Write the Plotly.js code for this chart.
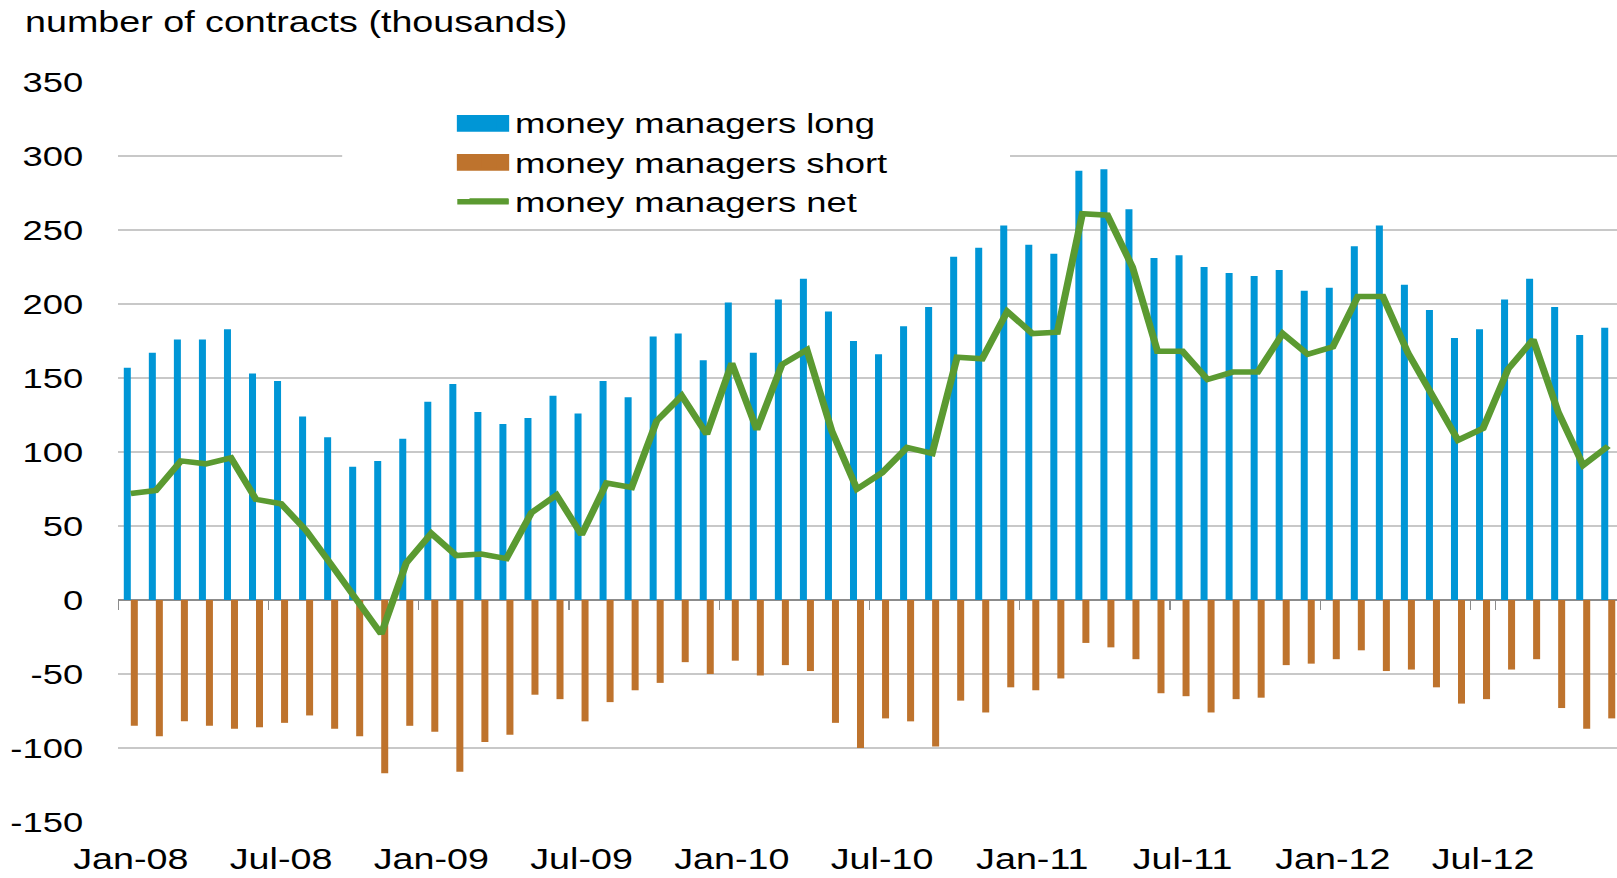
<!DOCTYPE html>
<html>
<head>
<meta charset="utf-8">
<script src="https://cdn.plot.ly/plotly-3.0.1.min.js"></script>
<style>
  html, body { margin: 0; padding: 0; background: #ffffff; overflow: hidden; }
  #chart { height: 878px; transform-origin: 0 0; }
</style>
</head>
<body>
<div id="chart"></div>
<script>
const months = [
  'Jan-08','Feb-08','Mar-08','Apr-08','May-08','Jun-08','Jul-08','Aug-08','Sep-08','Oct-08','Nov-08','Dec-08',
  'Jan-09','Feb-09','Mar-09','Apr-09','May-09','Jun-09','Jul-09','Aug-09','Sep-09','Oct-09','Nov-09','Dec-09',
  'Jan-10','Feb-10','Mar-10','Apr-10','May-10','Jun-10','Jul-10','Aug-10','Sep-10','Oct-10','Nov-10','Dec-10',
  'Jan-11','Feb-11','Mar-11','Apr-11','May-11','Jun-11','Jul-11','Aug-11','Sep-11','Oct-11','Nov-11','Dec-11',
  'Jan-12','Feb-12','Mar-12','Apr-12','May-12','Jun-12','Jul-12','Aug-12','Sep-12','Oct-12','Nov-12','Dec-12'
];

const longPositions = [
  157, 167, 176, 176, 183, 153, 148, 124, 110, 90, 94, 109,
  134, 146, 127, 119, 123, 138, 126, 148, 137, 178, 180, 162,
  201, 167, 203, 217, 195, 175, 166, 185, 198, 232, 238, 253,
  240, 234, 290, 291, 264, 231, 233, 225, 221, 219, 223, 209,
  211, 239, 253, 213, 196, 177, 183, 203, 217, 198, 179, 184
];

const shortPositions = [
  -85, -92, -82, -85, -87, -86, -83, -78, -87, -92, -117, -85,
  -89, -116, -96, -91, -64, -67, -82, -69, -61, -56, -42, -50,
  -41, -51, -44, -48, -83, -100, -80, -82, -99, -68, -76, -59,
  -61, -53, -29, -32, -40, -63, -65, -76, -67, -66, -44, -43,
  -40, -34, -48, -47, -59, -70, -67, -47, -40, -73, -87, -80
];

const netPositions = [
  72, 74, 94, 92, 96, 68, 65, 47, 24, 0, -23, 25,
  45, 30, 31, 28, 59, 71, 44, 79, 76, 121, 138, 112,
  160, 115, 159, 169, 114, 75, 86, 103, 99, 164, 163, 195,
  180, 181, 261, 260, 225, 168, 168, 149, 154, 154, 180, 166,
  171, 205, 205, 167, 138, 108, 116, 156, 176, 127, 91, 104
];

const xTickLabels = ['Jan-08','Jul-08','Jan-09','Jul-09','Jan-10','Jul-10','Jan-11','Jul-11','Jan-12','Jul-12'];
const yTickValues = [-150, -100, -50, 0, 50, 100, 150, 200, 250, 300, 350];
const yTickLabels = ['-150', '-100', '-50', '0', '50', '100', '150', '200', '250', '300', '350'];

const seriesNames = ['money managers long', 'money managers short', 'money managers net'];
const seriesColors = ['#0096d6', '#be732d', '#5b9a31'];
const chartTitle = 'number of contracts (thousands)';

// The reference picture is horizontally widened; the chart is drawn narrower and widened by CSS.
const PAGE_W = 1617, PAGE_H = 878;
const DRAW_W = 1244;
const STRETCH = PAGE_W / DRAW_W;
const chartDiv = document.getElementById('chart');
chartDiv.style.width = DRAW_W + 'px';
chartDiv.style.transform = 'scaleX(' + STRETCH + ')';

const FONT = 'Liberation Sans, Arial, Helvetica, sans-serif';
const xRange = [-0.5, 59.35];

const traces = [
  {
    type: 'bar', name: seriesNames[0], x: months, y: longPositions,
    marker: { color: seriesColors[0] }, xaxis: 'x', yaxis: 'y', hoverinfo: 'x+y'
  },
  {
    type: 'bar', name: seriesNames[1], x: months, y: shortPositions,
    marker: { color: seriesColors[1] }, xaxis: 'x', yaxis: 'y', hoverinfo: 'x+y'
  },
  {
    type: 'scatter', mode: 'lines', name: seriesNames[2], x: months, y: netPositions,
    line: { color: seriesColors[2], width: 5.5 }, xaxis: 'x2', yaxis: 'y', hoverinfo: 'x+y'
  }
];

// legend key swatches widened like the original (paper coordinates, decoration only)
const legendKeys = [
  { type: 'rect', xref: 'paper', yref: 'paper', layer: 'above',
    x0: 0.2259, x1: 0.2608, y0: 0.9328, y1: 0.9554,
    fillcolor: seriesColors[0], line: { width: 0 } },
  { type: 'rect', xref: 'paper', yref: 'paper', layer: 'above',
    x0: 0.2259, x1: 0.2608, y0: 0.8801, y1: 0.9027,
    fillcolor: seriesColors[1], line: { width: 0 } },
  { type: 'line', xref: 'paper', yref: 'paper', layer: 'above',
    x0: 0.2262, x1: 0.2605, y0: 0.8382, y1: 0.8382,
    line: { color: seriesColors[2], width: 5.5 } }
];

const layout = {
  width: DRAW_W, height: PAGE_H,
  margin: { l: 118 / STRETCH, r: 0, t: 82, b: 56 },
  paper_bgcolor: '#ffffff', plot_bgcolor: '#ffffff',
  font: { family: FONT, color: '#000000', size: 28 },
  title: {
    text: chartTitle,
    xref: 'container', yref: 'container',
    x: 25 / PAGE_W, xanchor: 'left',
    y: 1 - 22 / PAGE_H, yanchor: 'middle',
    font: { family: FONT, size: 29, color: '#000000' }
  },
  barmode: 'group', bargap: 0.44, bargroupgap: 0,
  showlegend: true,
  legend: {
    x: 0.230, xanchor: 'left', y: 0.979, yanchor: 'top',
    bgcolor: 'rgba(0,0,0,0)', borderwidth: 0,
    font: { family: FONT, size: 28, color: '#000000' },
    traceorder: 'normal', tracegroupgap: 0
  },
  xaxis: {
    type: 'category', range: xRange, domain: [0, 1],
    tickmode: 'array', tickvals: xTickLabels, ticktext: xTickLabels,
    ticks: '', showgrid: false, zeroline: false, showline: false,
    tickfont: { family: FONT, size: 29, color: '#000000' },
    ticklabelstandoff: 17, automargin: false, fixedrange: true
  },
  xaxis2: {
    type: 'category', overlaying: 'x', anchor: 'free', position: 0.3, side: 'bottom',
    range: xRange, domain: [0, 1],
    tickmode: 'array', tickvals: xTickLabels, tickson: 'boundaries',
    ticks: 'outside', ticklen: 9, tickwidth: 1, tickcolor: '#8c8c8c',
    showticklabels: false, showgrid: false, zeroline: false, showline: false,
    automargin: false, fixedrange: true
  },
  yaxis: {
    range: [-150, 350], domain: [0, 1],
    tickmode: 'array', tickvals: yTickValues, ticktext: yTickLabels,
    showgrid: true, gridcolor: '#c8c8c8', gridwidth: 1.5,
    zeroline: true, zerolinecolor: '#8c8c8c', zerolinewidth: 2,
    ticks: '', showline: false,
    tickfont: { family: FONT, size: 28, color: '#000000' },
    ticklabelstandoff: 26, automargin: false, fixedrange: true
  },
  shapes: [
    {
      type: 'rect', xref: 'paper', yref: 'paper', layer: 'above',
      x0: 0.1494, x1: 0.595, y0: 0.83, y1: 0.97,
      fillcolor: '#ffffff', line: { width: 0 }
    }
  ].concat(legendKeys)
};

Plotly.newPlot(chartDiv, traces, layout, { displayModeBar: false, staticPlot: true });
</script>
</body>
</html>
